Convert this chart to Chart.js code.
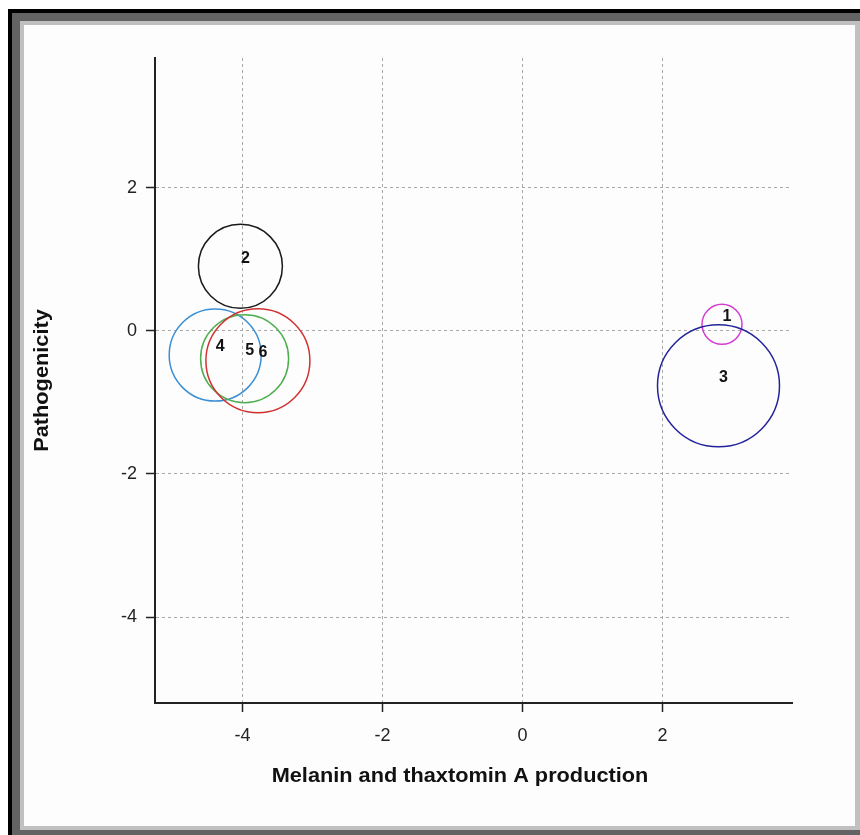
<!DOCTYPE html>
<html>
<head>
<meta charset="utf-8">
<script src="https://cdn.jsdelivr.net/npm/chart.js@4.4.1/dist/chart.umd.min.js"></script>
<style>
  html, body { margin: 0; padding: 0; width: 860px; height: 835px; overflow: hidden; background: #ffffff; }
  .frame { position: absolute; }
  #edgeDark  { left: 8px;  top: 9px;  width: 860px; height: 830px; background: #000000; }
  #edgeMid   { left: 12px; top: 13px; width: 860px; height: 830px; background: #636363; }
  #edgeLight { left: 20px; top: 21px; width: 840px; height: 809px; background: #c0c0c0; }
  #panel     { left: 24px; top: 25px; width: 831px; height: 801px; background: #fdfdfd; }
  canvas { display: block; }
</style>
</head>
<body>
<div class="frame" id="edgeDark"></div>
<div class="frame" id="edgeMid"></div>
<div class="frame" id="edgeLight"></div>
<div class="frame" id="panel"><canvas id="chart" width="831" height="801"></canvas></div>

<script>
// Group ordination scores and circle sizes
const groupLabels = ['1', '2', '3', '4', '5', '6'];
const melaninScores = [2.85, -4.03, 2.80, -4.39, -3.97, -3.78];
const pathogenicityScores = [0.09, 0.90, -0.77, -0.34, -0.39, -0.42];
const circleRadii = [20, 42, 61, 46, 44, 52];

// Axis tick values
const xTickValues = [-4, -2, 0, 2];
const yTickValues = [-4, -2, 0, 2];

const xTitle = 'Melanin and thaxtomin A production';
const yTitle = 'Pathogenicity';

const ringColors = ['#d23cd2', '#1a1a1a', '#24249a', '#3b8fd4', '#4fae4f', '#d03232'];

const points = groupLabels.map((_, i) => ({
  x: melaninScores[i],
  y: pathogenicityScores[i],
  r: circleRadii[i]
}));

// Writes each group number next to its circle centre
const groupNumbers = {
  id: 'groupNumbers',
  afterDatasetsDraw(chart) {
    const ctx = chart.ctx;
    const meta = chart.getDatasetMeta(0);
    ctx.save();
    ctx.font = 'bold 16px "Liberation Sans", Arial, sans-serif';
    ctx.fillStyle = '#111111';
    ctx.textAlign = 'center';
    ctx.textBaseline = 'middle';
    meta.data.forEach((el, i) => {
      ctx.fillText(groupLabels[i], el.x + 5, el.y - 8);
    });
    ctx.restore();
  }
};

// Axis titles, drawn slightly wide
const axisTitles = {
  id: 'axisTitles',
  afterDraw(chart) {
    const ctx = chart.ctx;
    const area = chart.chartArea;
    const stretch = 1.06;
    ctx.save();
    ctx.font = 'bold 20.5px "Liberation Sans", Arial, sans-serif';
    ctx.fillStyle = '#111111';
    ctx.textAlign = 'center';
    ctx.textBaseline = 'middle';

    ctx.save();
    ctx.translate(area.left + 305, area.bottom + 73);
    ctx.scale(stretch, 1);
    ctx.fillText(xTitle, 0, 0);
    ctx.restore();

    ctx.save();
    ctx.translate(18, (area.top + area.bottom) / 2);
    ctx.rotate(-Math.PI / 2);
    ctx.scale(stretch, 1);
    ctx.fillText(yTitle, 0, 0);
    ctx.restore();

    ctx.restore();
  }
};

const tickFont = { family: '"Liberation Sans", Arial, sans-serif', size: 18 };

new Chart(document.getElementById('chart'), {
  type: 'bubble',
  data: {
    datasets: [{
      data: points,
      backgroundColor: 'rgba(0,0,0,0)',
      borderColor: ringColors,
      borderWidth: 1.5,
      hoverBorderWidth: 1.5,
      hoverBackgroundColor: 'rgba(0,0,0,0)',
      hoverBorderColor: ringColors
    }]
  },
  options: {
    responsive: false,
    animation: false,
    events: [],
    layout: { autoPadding: false, padding: { left: 0, top: 33, right: 63, bottom: 0 } },
    plugins: {
      legend: { display: false },
      tooltip: { enabled: false }
    },
    scales: {
      x: {
        type: 'linear',
        position: 'bottom',
        min: -5.25,
        max: 3.85,
        afterBuildTicks: (s) => { s.ticks = xTickValues.map(v => ({ value: v })); },
        afterFit: (s) => { s.height = 123; },
        ticks: { font: tickFont, color: '#222222', padding: 13 },
        grid: {
          color: '#a8a8a8', lineWidth: 1, tickLength: 9,
          tickColor: '#222222', tickWidth: 1.5, tickBorderDash: []
        },
        border: { color: '#222222', width: 2, dash: [3, 3] }
      },
      y: {
        type: 'linear',
        position: 'left',
        min: -5.20,
        max: 3.81,
        afterBuildTicks: (s) => { s.ticks = yTickValues.map(v => ({ value: v })); },
        afterFit: (s) => { s.width = 131; },
        ticks: { font: tickFont, color: '#222222', padding: 9 },
        grid: {
          color: '#a8a8a8', lineWidth: 1, tickLength: 9,
          tickColor: '#222222', tickWidth: 1.5, tickBorderDash: []
        },
        border: { color: '#222222', width: 2, dash: [3, 3] }
      }
    }
  },
  plugins: [groupNumbers, axisTitles]
});
</script>
</body>
</html>
